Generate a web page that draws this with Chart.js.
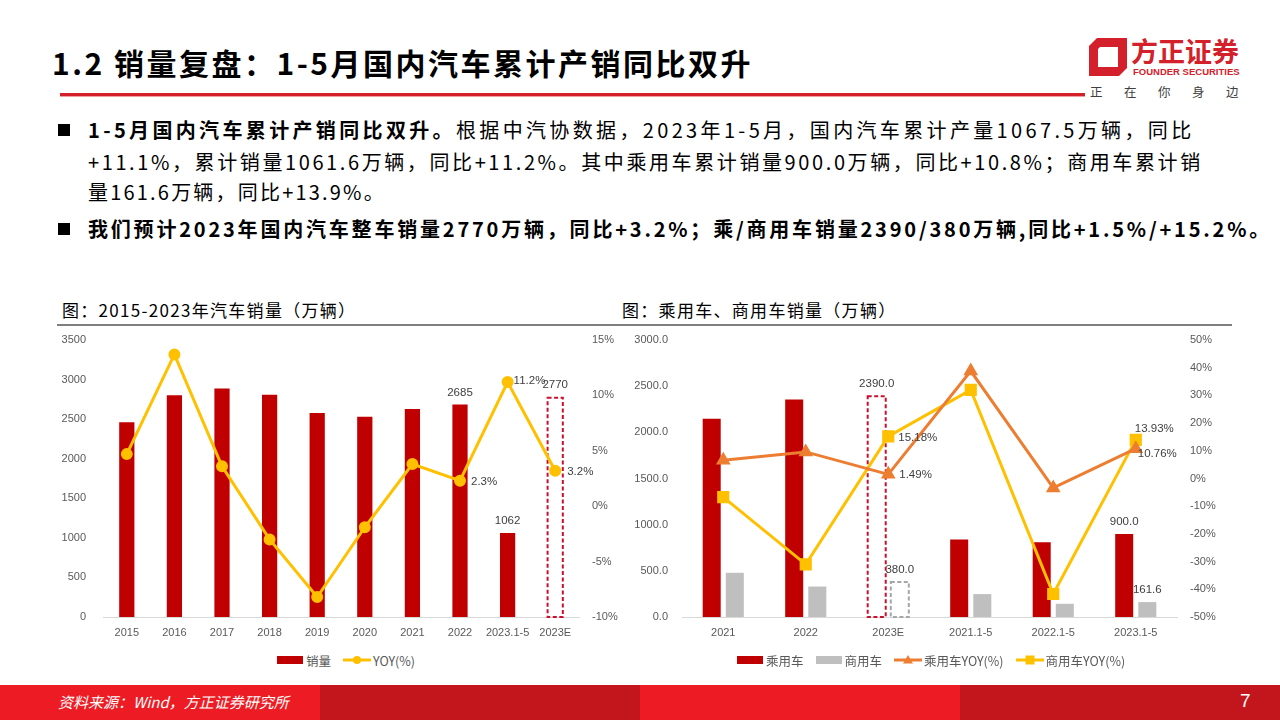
<!DOCTYPE html>
<html>
<head>
<meta charset="utf-8">
<script src="https://cdn.jsdelivr.net/npm/chart.js@4.4.1/dist/chart.umd.min.js"></script>
<style>
  body { margin: 0; width: 1280px; height: 720px; position: relative; overflow: hidden; background: #fff;
         font-family: "Noto Sans CJK SC", "Noto Sans", sans-serif; color: #000; }
  .abs { position: absolute; }
  #title { left: 52px; top: 40px; font-size: 30px; font-weight: bold; letter-spacing: 2.5px; white-space: nowrap; line-height: 44px; }
  #titleLine { left: 60px; top: 93px; width: 1025px; height: 3px; background: #d3202a; border-bottom: 1px solid #f0a0a0; }
  .bul { left: 58px; width: 12px; height: 12px; background: #000; }
  .txt { left: 88px; font-size: 20px; line-height: 28px; white-space: nowrap; }
  .b { font-weight: bold; }
  .ctitle { font-size: 17px; letter-spacing: 1.3px; white-space: nowrap; line-height: 24px; color: #000; }
  .cline { height: 2px; background: #7f7f7f; }
  .legend { display: flex; align-items: center; font-size: 12.5px; color: #595959; white-space: nowrap; height: 18px; }
  .legend .sw { display: inline-block; width: 26px; height: 8px; margin-right: 3px; }
  .legend .item { display: flex; align-items: center; margin-right: 12px; }
  .legend canvas { margin-right: 2px; }
  #footer div { position: absolute; top: 685px; height: 35px; width: 320px; }
</style>
</head>
<body>

<div id="title" class="abs">1.2 销量复盘：1-5月国内汽车累计产销同比双升</div>
<div id="titleLine" class="abs"></div>

<!-- logo -->
<svg class="abs" style="left:1089px;top:38px" width="40" height="40" viewBox="0 0 40 40">
  <polygon points="8,0 38,0 38,30 30,38 0,38 0,8" fill="#d3202a"/>
  <polygon points="11,9 29,9 29,29 9,29 9,11" fill="#fff"/>
</svg>
<div class="abs" style="left:1131px;top:33px;font-size:27px;font-weight:bold;color:#d3202a;line-height:36px;white-space:nowrap">方正证券</div>
<div class="abs" style="left:1133px;top:66px;font-size:9.5px;font-weight:bold;color:#d3202a;font-family:'Liberation Sans',sans-serif;white-space:nowrap;line-height:12px">FOUNDER SECURITIES</div>
<div class="abs" style="left:1090px;top:83px;font-size:12.5px;color:#404040;letter-spacing:21.5px;white-space:nowrap;line-height:18px">正在你身边</div>

<!-- bullets -->
<div class="abs bul" style="top:124px"></div>
<div class="abs txt" style="top:116px;letter-spacing:3.35px"><span class="b">1-5月国内汽车累计产销同比双升。</span>根据中汽协数据，2023年1-5月，国内汽车累计产量1067.5万辆，同比</div>
<div class="abs txt" style="top:148px;letter-spacing:2.6px">+11.1%，累计销量1061.6万辆，同比+11.2%。其中乘用车累计销量900.0万辆，同比+10.8%；商用车累计销</div>
<div class="abs txt" style="top:178px;letter-spacing:2.2px">量161.6万辆，同比+13.9%。</div>
<div class="abs bul" style="top:223px"></div>
<div class="abs txt b" style="top:215px;letter-spacing:2.8px">我们预计2023年国内汽车整车销量2770万辆，同比+3.2%；乘/商用车销量2390/380万辆,同比+1.5%/+15.2%。</div>

<!-- chart titles -->
<div class="abs ctitle" style="left:62px;top:298px">图：2015-2023年汽车销量（万辆）</div>
<div class="abs cline" style="left:57px;top:324px;width:563px"></div>
<div class="abs ctitle" style="left:622px;top:298px">图：乘用车、商用车销量（万辆）</div>
<div class="abs cline" style="left:620px;top:324px;width:612px"></div>

<div class="abs" style="left:40px;top:330px;width:600px;height:320px"><canvas id="totalChart"></canvas></div>
<div class="abs" style="left:620px;top:330px;width:640px;height:320px"><canvas id="segChart"></canvas></div>

<div class="abs legend" style="left:277px;top:651px">
  <div class="item"><span class="sw" style="background:#c00000"></span>销量</div>
  <div class="item"><canvas class="mk" data-c="#ffc000" data-s="circle" width="28" height="12"></canvas>YOY(%)</div>
</div>
<div class="abs legend" style="left:737px;top:651px">
  <div class="item"><span class="sw" style="background:#c00000"></span>乘用车</div>
  <div class="item"><span class="sw" style="background:#bfbfbf"></span>商用车</div>
  <div class="item"><canvas class="mk" data-c="#ed7d31" data-s="triangle" width="28" height="12"></canvas>乘用车YOY(%)</div>
  <div class="item"><canvas class="mk" data-c="#ffc000" data-s="rect" width="28" height="12"></canvas>商用车YOY(%)</div>
</div>

<div id="footer">
  <div style="left:0;background:#ed1c24"></div>
  <div style="left:320px;background:#c3161c"></div>
  <div style="left:640px;background:#ed1c24"></div>
  <div style="left:960px;background:#c3161c"></div>
</div>
<div class="abs" style="left:58px;top:690px;font-size:15px;color:#fff;font-style:italic;line-height:24px;white-space:nowrap">资料来源：Wind，方正证券研究所</div>
<div class="abs" style="left:1240px;top:688px;font-size:19px;color:#fff;line-height:26px;font-family:'Liberation Sans Narrow','Liberation Sans',sans-serif">7</div>

<script>
/* 2015-2023 total sales */
const totalCats = ['2015', '2016', '2017', '2018', '2019', '2020', '2021', '2022', '2023.1-5', '2023E'];
const totalSales = [2460, 2803, 2888, 2808, 2577, 2531, 2627, 2685, 1062, 2770];
const totalYoy = [4.7, 13.7, 3.6, -3.0, -8.2, -1.9, 3.8, 2.3, 11.2, 3.2];
const totalEstIdx = [9];
const totalTicksL = [0, 500, 1000, 1500, 2000, 2500, 3000, 3500];
const totalTicksR = [-10, -5, 0, 5, 10, 15];

/* passenger / commercial */
const segCats = ['2021', '2022', '2023E', '2021.1-5', '2022.1-5', '2023.1-5'];
const pvSales = [2148, 2356, 2390, 840, 810, 900.0];
const cvSales = [479, 330, 380, 248, 143, 161.6];
const pvYoy = [6.6, 9.6, 1.49, 38.8, -3.4, 10.76];
const cvYoy = [-6.7, -31.0, 15.18, 32.0, -41.7, 13.93];
const segEstIdx = [2];
const segTicksL = [0, 500, 1000, 1500, 2000, 2500, 3000];
const segTicksR = [-50, -40, -30, -20, -10, 0, 10, 20, 30, 40, 50];

const tickFont = { family: 'Liberation Sans', size: 11 };
const tickColor = '#595959';

/* dashed outline for estimate bars */
const dashedBars = {
  id: 'dashedBars',
  afterDatasetDraw(chart, args) {
    const ds = chart.data.datasets[args.index];
    if (!ds.estIdx) return;
    const ctx = chart.ctx;
    ds.estIdx.forEach(j => {
      const el = args.meta.data[j];
      const p = el.getProps(['x', 'y', 'base', 'width'], true);
      ctx.save();
      ctx.setLineDash([4, 2.5]);
      ctx.lineWidth = 2;
      ctx.strokeStyle = ds.dashColor;
      ctx.strokeRect(p.x - p.width / 2, p.y, p.width, p.base - p.y);
      ctx.restore();
    });
  }
};

/* data labels: ds.labels = {index: [dx, dy, align]} */
const valueLabels = {
  id: 'valueLabels',
  afterDatasetsDraw(chart) {
    const ctx = chart.ctx;
    chart.data.datasets.forEach((ds, i) => {
      if (!ds.labels) return;
      const meta = chart.getDatasetMeta(i);
      Object.keys(ds.labels).forEach(k => {
        const [dx, dy, align] = ds.labels[k];
        const el = meta.data[k];
        const v = ds.data[k];
        ctx.save();
        ctx.font = '11.5px "Liberation Sans"';
        ctx.fillStyle = '#404040';
        ctx.textAlign = align;
        ctx.textBaseline = 'middle';
        ctx.fillText(ds.fmt(v), el.x + dx, el.y + dy);
        ctx.restore();
      });
    });
  }
};

function yAxis(pos, min, max, ticks, width, pad, fmt) {
  return {
    position: pos, min: min, max: max,
    grid: { display: false, drawTicks: false },
    border: { display: false },
    afterBuildTicks: s => { s.ticks = ticks.map(v => ({ value: v })); },
    afterFit: s => { s.width = width; s.paddingTop = 0; s.paddingBottom = 0; },
    ticks: { color: tickColor, font: tickFont, padding: pad, callback: fmt }
  };
}

function xAxis() {
  return {
    grid: { display: false, drawTicks: false },
    border: { display: true, color: '#d9d9d9', width: 1 },
    afterFit: s => { s.height = 33; },
    ticks: { color: tickColor, font: tickFont, padding: 9, maxRotation: 0, autoSkip: false }
  };
}

const baseOpts = {
  responsive: true,
  maintainAspectRatio: false,
  animation: false,
  layout: { padding: { top: 10, left: 0, right: 0, bottom: 0 } },
  plugins: { legend: { display: false }, tooltip: { enabled: false } }
};

new Chart(document.getElementById('totalChart'), {
  type: 'bar',
  data: {
    labels: totalCats,
    datasets: [{
      type: 'line',
      data: totalYoy,
      yAxisID: 'y1',
      order: 0,
      borderColor: '#ffc000',
      backgroundColor: '#ffc000',
      borderWidth: 3,
      pointRadius: 4.5,
      pointBackgroundColor: '#ffc000',
      pointBorderColor: '#ffc000',
      tension: 0,
      fmt: v => v.toFixed(1) + '%',
      labels: { 7: [11, 1, 'left'], 8: [6, -1, 'left'], 9: [12, 1, 'left'] }
    }, {
      data: totalSales,
      yAxisID: 'y',
      order: 1,
      backgroundColor: totalSales.map((v, i) => totalEstIdx.includes(i) ? 'rgba(0,0,0,0)' : '#c00000'),
      borderWidth: 0,
      categoryPercentage: 1,
      barPercentage: 0.32,
      estIdx: totalEstIdx,
      dashColor: '#c8102e',
      fmt: v => String(v),
      labels: { 7: [0, -12, 'center'], 8: [0, -12, 'center'], 9: [0, -13, 'center'] }
    }]
  },
  options: Object.assign({}, baseOpts, {
    scales: {
      x: xAxis(),
      y: yAxis('left', 0, 3500, totalTicksL, 63, 17, v => v),
      y1: yAxis('right', -10, 15, totalTicksR, 61, 13, v => v + '%')
    }
  }),
  plugins: [dashedBars, valueLabels]
});

new Chart(document.getElementById('segChart'), {
  type: 'bar',
  data: {
    labels: segCats,
    datasets: [{
      type: 'line',
      data: pvYoy,
      yAxisID: 'y1',
      order: 0,
      borderColor: '#ed7d31',
      borderWidth: 3,
      pointStyle: 'triangle',
      pointRadius: 5.5,
      pointBackgroundColor: '#ed7d31',
      pointBorderColor: '#ed7d31',
      tension: 0,
      fmt: v => v.toFixed(2) + '%',
      labels: { 2: [11, 0, 'left'], 5: [2, 5, 'left'] }
    }, {
      type: 'line',
      data: cvYoy,
      yAxisID: 'y1',
      order: 0,
      borderColor: '#ffc000',
      borderWidth: 3,
      pointStyle: 'rect',
      pointRadius: 6.5,
      pointBackgroundColor: '#ffc000',
      pointBorderColor: '#ffc000',
      tension: 0,
      fmt: v => v.toFixed(2) + '%',
      labels: { 2: [10, 1, 'left'], 5: [-1, -11, 'left'] }
    }, {
      data: pvSales,
      yAxisID: 'y',
      order: 1,
      backgroundColor: pvSales.map((v, i) => segEstIdx.includes(i) ? 'rgba(0,0,0,0)' : '#c00000'),
      borderWidth: 0,
      categoryPercentage: 0.56,
      barPercentage: 0.78,
      estIdx: segEstIdx,
      dashColor: '#c8102e',
      fmt: v => v.toFixed(1),
      labels: { 2: [0, -12, 'center'], 5: [0, -12, 'center'] }
    }, {
      data: cvSales,
      yAxisID: 'y',
      order: 1,
      backgroundColor: cvSales.map((v, i) => segEstIdx.includes(i) ? 'rgba(0,0,0,0)' : '#bfbfbf'),
      borderWidth: 0,
      categoryPercentage: 0.56,
      barPercentage: 0.78,
      estIdx: segEstIdx,
      dashColor: '#a6a6a6',
      fmt: v => v.toFixed(1),
      labels: { 2: [0, -12, 'center'], 5: [0, -12, 'center'] }
    }]
  },
  options: Object.assign({}, baseOpts, {
    scales: {
      x: xAxis(),
      y: yAxis('left', 0, 3000, segTicksL, 62, 14, v => v.toFixed(1)),
      y1: yAxis('right', -50, 50, segTicksR, 83, 13, v => v + '%')
    }
  }),
  plugins: [dashedBars, valueLabels]
});

/* legend line markers */
document.querySelectorAll('canvas.mk').forEach(c => {
  const ctx = c.getContext('2d');
  const col = c.dataset.c;
  ctx.strokeStyle = col; ctx.fillStyle = col; ctx.lineWidth = 3;
  ctx.beginPath(); ctx.moveTo(0, 6); ctx.lineTo(28, 6); ctx.stroke();
  ctx.beginPath();
  if (c.dataset.s === 'circle') ctx.arc(14, 6, 4, 0, Math.PI * 2);
  else if (c.dataset.s === 'triangle') { ctx.moveTo(14, 1); ctx.lineTo(19, 9.5); ctx.lineTo(9, 9.5); ctx.closePath(); }
  else ctx.rect(9.5, 1.5, 9, 9);
  ctx.fill();
});
</script>
</body>
</html>
